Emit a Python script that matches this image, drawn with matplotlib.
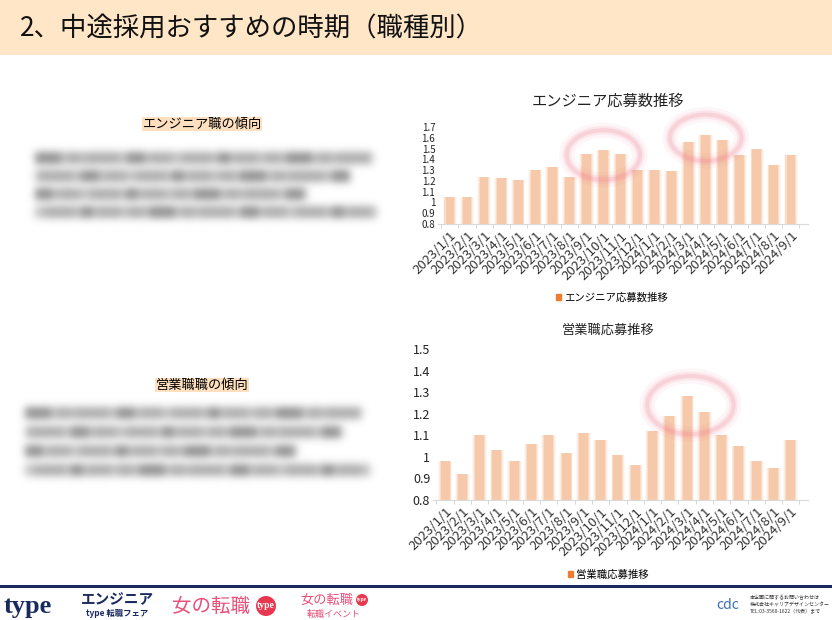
import numpy as np
import matplotlib.pyplot as plt
from matplotlib.patches import Rectangle, Ellipse, Circle, Patch

plt.rcParams['font.family'] = ['Noto Sans CJK JP', 'DejaVu Sans']

# Data
months = ['2023/1/1', '2023/2/1', '2023/3/1', '2023/4/1', '2023/5/1', '2023/6/1',
          '2023/7/1', '2023/8/1', '2023/9/1', '2023/10/1', '2023/11/1', '2023/12/1',
          '2024/1/1', '2024/2/1', '2024/3/1', '2024/4/1', '2024/5/1', '2024/6/1',
          '2024/7/1', '2024/8/1', '2024/9/1']
engineer_values = [1.05, 1.05, 1.24, 1.23, 1.21, 1.30, 1.33, 1.24, 1.45, 1.49, 1.45,
                   1.30, 1.30, 1.29, 1.56, 1.63, 1.58, 1.44, 1.50, 1.35, 1.44]
sales_values = [0.98, 0.92, 1.10, 1.03, 0.98, 1.06, 1.10, 1.02, 1.11, 1.08, 1.01,
                0.96, 1.12, 1.19, 1.28, 1.21, 1.10, 1.05, 0.98, 0.95, 1.08]
engineer_ticks = [0.8, 0.9, 1.0, 1.1, 1.2, 1.3, 1.4, 1.5, 1.6, 1.7]
engineer_tick_labels = ['0.8', '0.9', '1', '1.1', '1.2', '1.3', '1.4', '1.5', '1.6', '1.7']
sales_ticks = [0.8, 0.9, 1.0, 1.1, 1.2, 1.3, 1.4, 1.5]
sales_tick_labels = ['0.8', '0.9', '1', '1.1', '1.2', '1.3', '1.4', '1.5']

W, H = 832, 620
BAR = '#F4B183'

fig = plt.figure(figsize=(8.32, 6.2), dpi=100)

# background layer in pixel coordinates
bg = fig.add_axes([0, 0, 1, 1])
bg.set_xlim(0, W)
bg.set_ylim(H, 0)
bg.axis('off')
bg.set_zorder(0)

# header
bg.add_patch(Rectangle((0, 0), W, 55, color='#FEE6C7', lw=0))
bg.text(20, 29, '2、中途採用おすすめの時期（職種別）', fontsize=19, va='center', color='#111111')


def blurred_text(x0, y0, line_ends, spacing):
    # soft grey stripes standing in for the blurred paragraph
    pad = 14
    w = int(max(line_ends) - x0) + 2 * pad
    h = int(spacing * (len(line_ends) - 1)) + 2 * pad + 12
    mask = np.zeros((h, w))
    pattern = [26, 6, 14, 4, 34, 8, 18, 5, 22, 10, 30, 6, 12, 4, 24, 7, 16, 5]
    for i, xe in enumerate(line_ends):
        yc = pad + 6 + int(i * spacing)
        xx = pad
        k = i * 3
        while xx < pad + (xe - x0):
            seg = pattern[k % len(pattern)]
            end = min(xx + seg, int(pad + xe - x0))
            if k % 2 == 0:
                mask[yc - 6:yc + 6, xx:end] = 0.75 + 0.25 * ((k // 2) % 3 == 0)
            else:
                mask[yc - 6:yc + 6, xx:end] = 0.55
            xx += seg
            k += 1
    x = np.arange(-12, 13)
    kern = np.exp(-x ** 2 / (2 * 4.0 ** 2))
    kern /= kern.sum()
    mask = np.apply_along_axis(lambda r: np.convolve(r, kern, mode='same'), 1, mask)
    mask = np.apply_along_axis(lambda c: np.convolve(c, kern, mode='same'), 0, mask)
    rgba = np.zeros((h, w, 4))
    rgba[..., :3] = 0.40
    rgba[..., 3] = mask * 0.72
    bg.imshow(rgba, extent=(x0 - pad, x0 - pad + w, y0 - pad - 6 + h, y0 - pad - 6),
              interpolation='bilinear', zorder=1)


# left side headings and text
bg.text(202, 124, 'エンジニア職の傾向', fontsize=9.5, ha='center', va='center',
        bbox=dict(facecolor='#FEE0C0', edgecolor='none', pad=0.6))
blurred_text(35, 158, [373, 350, 307, 377], 18)
bg.text(202, 385, '営業職職の傾向', fontsize=9.5, ha='center', va='center',
        bbox=dict(facecolor='#FEE0C0', edgecolor='none', pad=0.6))
blurred_text(25, 413, [362, 343, 297, 370], 19)


def bar_chart(rect, values, ylim, ticks, tick_labels, ytick_size, xtick_size, circles):
    ax = fig.add_axes(rect)
    ax.set_zorder(1)
    ax.patch.set_alpha(0)
    x = np.arange(len(values))
    vals = np.array(values)
    # soft-edged bars
    for wd, a in [(0.85, 0.08), (0.74, 0.14), (0.64, 0.25), (0.52, 0.45)]:
        ax.bar(x, vals, width=wd, color=BAR, alpha=a, lw=0)
    for (cx, cy, ew, eh) in circles:
        for lw, a in [(11, 0.07), (6, 0.12), (3, 0.18)]:
            ax.add_patch(Ellipse((cx, cy), ew, eh, fill=False, edgecolor='#F07A8E',
                                 lw=lw, alpha=a, clip_on=False))
    ax.set_ylim(*ylim)
    ax.set_xlim(-0.7, len(values) - 0.0)
    ax.set_yticks(ticks)
    ax.set_yticklabels(tick_labels, fontsize=ytick_size, color='#222222')
    ax.set_xticks(x)
    ax.set_xticklabels(months, rotation=45, ha='right', rotation_mode='anchor',
                       fontsize=xtick_size, color='#333333')
    ax.set_xticks(np.arange(-0.5, len(values)), minor=True)
    ax.tick_params(axis='x', which='major', length=0, pad=4)
    ax.tick_params(axis='x', which='minor', length=3, color='#d0d0d0')
    ax.tick_params(axis='y', length=0, pad=2)
    for s in ['left', 'right', 'top']:
        ax.spines[s].set_visible(False)
    ax.spines['bottom'].set_color('#d9d9d9')
    return ax


ax1 = bar_chart([438 / W, 1 - 224 / H, 370 / W, 97 / H], engineer_values, (0.8, 1.7),
                engineer_ticks, engineer_tick_labels, 7, 9.5,
                [(9, 1.44, 4.3, 0.46), (15, 1.60, 4.2, 0.43)])
bg.text(608, 101, 'エンジニア応募数推移', fontsize=11, ha='center', va='center', color='#222222')
fig.legend(handles=[Patch(color='#ED7D31', label='エンジニア応募数推移')],
           loc='center', bbox_to_anchor=(612 / W, 1 - 298 / H), frameon=False,
           fontsize=7.5, handlelength=0.5, handleheight=0.5, handletextpad=0.3)

ax2 = bar_chart([433 / W, 1 - 500 / H, 375 / W, 151 / H], sales_values, (0.8, 1.5),
                sales_ticks, sales_tick_labels, 9, 9.5,
                [(14.2, 1.24, 5.0, 0.27)])
bg.text(608, 330, '営業職応募推移', fontsize=9.5, ha='center', va='center', color='#222222')
fig.legend(handles=[Patch(color='#ED7D31', label='営業職応募推移')],
           loc='center', bbox_to_anchor=(608 / W, 1 - 575 / H), frameon=False,
           fontsize=7.5, handlelength=0.5, handleheight=0.5, handletextpad=0.3)

# footer
NAVY = '#1B2A5E'
PINK = '#E8507A'
bg.add_patch(Rectangle((0, 585), W, 3, color=NAVY, lw=0))
bg.text(4, 606, 'type', fontsize=19, fontweight='bold', family='Liberation Serif',
        color=NAVY, va='center')
bg.text(117, 599, 'エンジニア', fontsize=10.5, fontweight='bold', style='italic',
        color=NAVY, ha='center', va='center')
bg.text(117, 613, 'type 転職フェア', fontsize=6, fontweight='bold', color=NAVY,
        ha='center', va='center')
bg.text(172, 606, '女の転職', fontsize=14, color=PINK, va='center')
bg.add_patch(Circle((266, 606), 10, color='#E8384F', lw=0))
bg.text(266, 606, 'type', fontsize=7, fontweight='bold', family='Liberation Serif',
        color='white', ha='center', va='center')
bg.text(300, 600, '女の転職', fontsize=9.5, color=PINK, va='center')
bg.add_patch(Circle((362, 600), 6, color='#E8384F', lw=0))
bg.text(362, 600, 'type', fontsize=4, fontweight='bold', family='Liberation Serif',
        color='white', ha='center', va='center')
bg.text(307, 614, '転職イベント', fontsize=6.5, color=PINK, va='center')
bg.text(728, 605, 'cdc', fontsize=10, color='#3A6FB0', ha='center', va='center')
bg.text(750, 598, '本企画に関するお問い合わせは', fontsize=3.6, color='#333333', va='center')
bg.text(750, 605, '株式会社キャリアデザインセンター', fontsize=3.6, color='#333333', va='center')
bg.text(750, 612, 'TEL:03-3560-1622（代表）まで', fontsize=3.6, color='#333333', va='center')

fig.savefig('out.png', dpi=100)
print('Saved: out.png')
